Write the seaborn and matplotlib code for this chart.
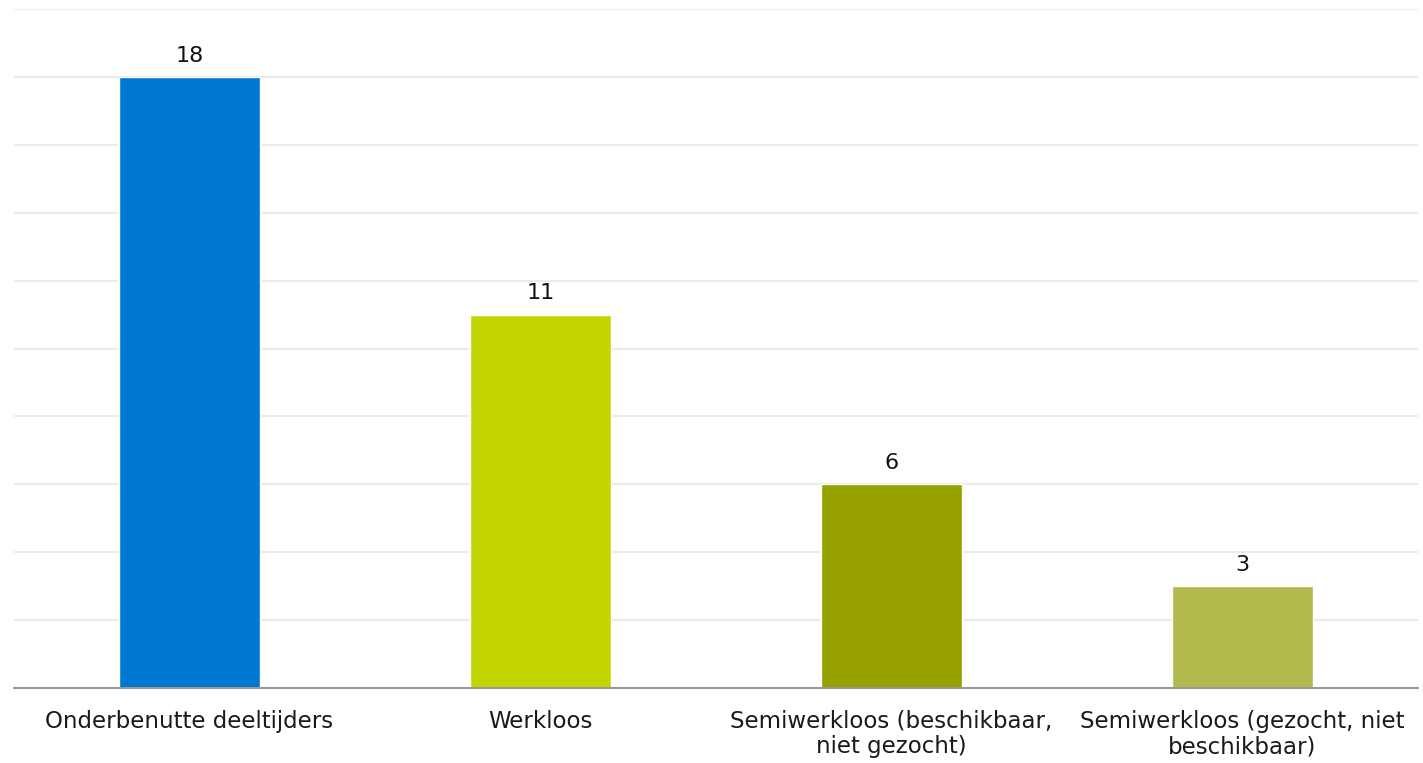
import matplotlib
matplotlib.use("Agg")
import matplotlib.pyplot as plt
import seaborn as sns
import pandas as pd

# Data
categories = [
    "Onderbenutte deeltijders",
    "Werkloos",
    "Semiwerkloos (beschikbaar,\nniet gezocht)",
    "Semiwerkloos (gezocht, niet\nbeschikbaar)",
]
values = [18, 11, 6, 3]
colors = ["#0077D3", "#C4D600", "#96A100", "#B3BA4D"]

df = pd.DataFrame({"categorie": categories, "waarde": values})

sns.set_theme(style="white")
plt.rcParams["font.family"] = ["DejaVu Sans"]

fig = plt.figure(figsize=(14.23, 7.63), dpi=100)
ax = fig.add_axes([14 / 1423, 1 - 688 / 763, (1418 - 14) / 1423, (688 - 9) / 763])

sns.barplot(data=df, x="categorie", y="waarde", hue="categorie",
            palette=colors, width=0.4, saturation=1, legend=False, ax=ax)

ax.set_ylim(0, 20)
ax.set_xlim(-0.5, 3.5)
ax.set_yticks(range(0, 21, 2))
ax.yaxis.grid(True, color="#EBEBEB", linewidth=1.5)
ax.set_axisbelow(True)
ax.tick_params(axis="y", left=False, labelleft=False)
ax.tick_params(axis="x", bottom=False, pad=10, labelsize=16.5, labelcolor="#1a1a1a")
ax.set_xlabel("")
ax.set_ylabel("")
for s in ["top", "left", "right"]:
    ax.spines[s].set_visible(False)
ax.spines["bottom"].set_color("#999999")
ax.spines["bottom"].set_linewidth(1.5)
for lbl in ax.get_xticklabels():
    lbl.set_linespacing(1.1)

for cont in ax.containers:
    ax.bar_label(cont, padding=8, fontsize=16, color="#111111")

fig.savefig("out.png", dpi=100)
